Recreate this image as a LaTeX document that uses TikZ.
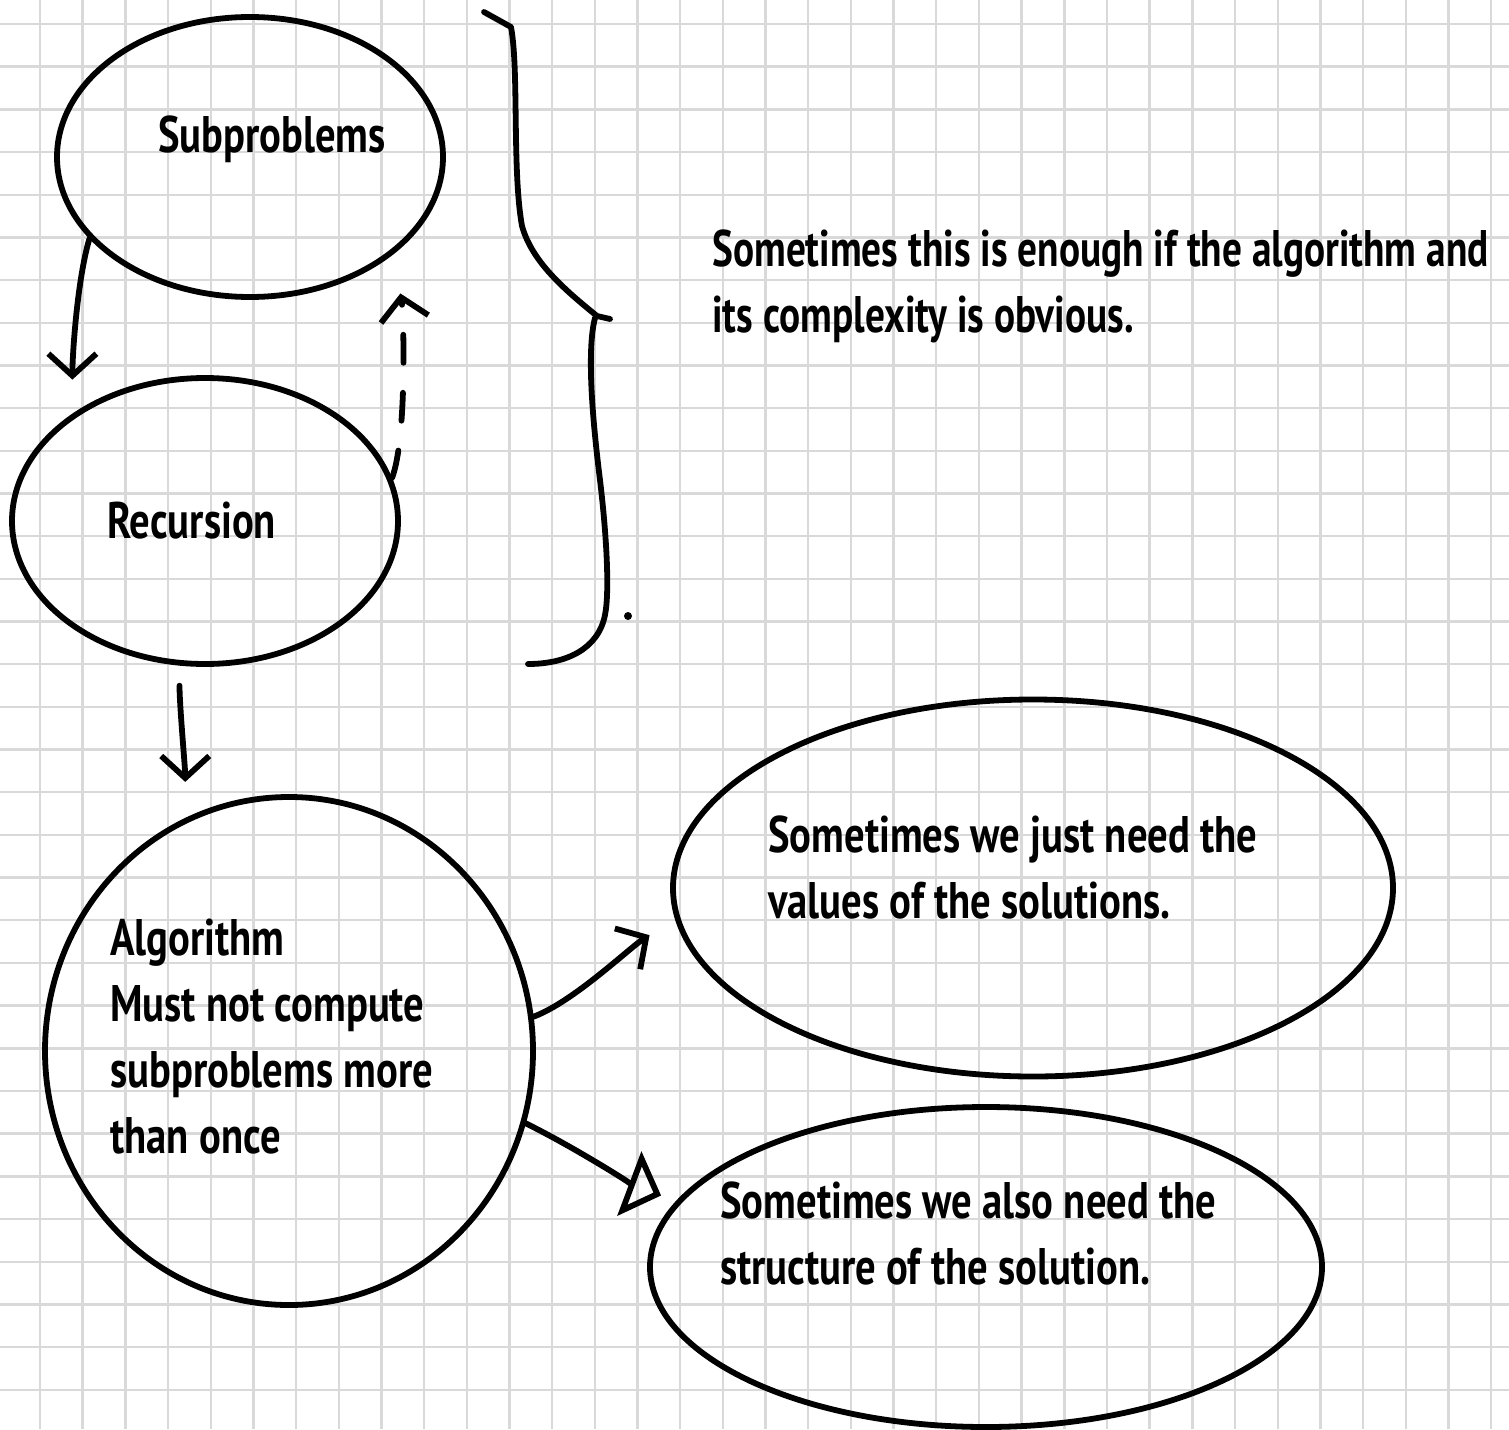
\documentclass[tikz,border=0pt]{standalone}
\usepackage{fontspec}
\setmainfont[FakeStretch=0.79]{PT Sans}
\newfontfamily\notefont[FakeStretch=0.765]{PT Sans}
\usepackage{tikz}
\usetikzlibrary{arrows.meta,shapes.geometric}
\definecolor{gridline}{HTML}{D9D9D9}
\definecolor{ink}{HTML}{000000}

\begin{document}
\begin{tikzpicture}[x=0.5pt,y=-0.5pt,
  >={Straight Barb[length=11pt,width=24pt]},
  ln/.style={ink,line width=2.9pt,line cap=round,line join=round},
  blob/.style={ln,draw,ellipse,inner sep=0pt},
  txt/.style={font=\fontsize{25.7pt}{33pt}\selectfont\bfseries,inner sep=0pt,align=left,anchor=base west}]
\useasboundingbox (0,0) rectangle (1509,1429);
\fill[white] (0,0) rectangle (1509,1429);
% squared paper
\foreach \k in {0,...,34} \draw[gridline,line width=1.2pt] (40+42.68*\k,0) -- (40+42.68*\k,1429);
\foreach \k in {0,...,32} \draw[gridline,line width=1.2pt] (0,24+42.68*\k) -- (1509,24+42.68*\k);

\node[blob,minimum width=193pt,minimum height=140pt] (sub) at (250,157) {};
\node[blob,minimum width=193pt,minimum height=143pt] (rec) at (205,521) {};
\node[blob,minimum width=244pt,minimum height=254pt] (alg) at (289,1051) {};
\node[blob,minimum width=360pt,minimum height=188.5pt] (val) at (1033,888) {};
\node[blob,minimum width=336pt,minimum height=160pt] (str) at (986,1267) {};

% base = last line
\node[txt] (subT) at (158,152) {Subproblems};
\node[txt] (recT) at (107,538) {Recursion};
\node[txt] (algT) at (110,1153) {Algorithm\\Must not compute\\subproblems more\\than once};
\node[txt] (valT) at (768,918) {Sometimes we just need the\\values of the solutions.};
\node[txt] (strT) at (720,1284) {Sometimes we also need the\\structure of the solution.};
\node[txt,font=\fontsize{25.7pt}{33pt}\notefont\bfseries] (note) at (712,332) {Sometimes this is enough if the algorithm and\\its complexity is obvious.};

% brace
\draw[ln] (484,12) -- (511,27) .. controls (519,70) and (512,170) .. (522,226)
  .. controls (532,262) and (565,290) .. (597,316) -- (610,319);
\draw[ln] (595,318) .. controls (588,345) and (590,400) .. (600,480)
  .. controls (606,530) and (610,590) .. (605,615) .. controls (598,650) and (565,664) .. (528,664);
\fill[ink] (628,616) circle (2pt);

% connectors
\draw[ln,->,shorten >=17pt] (sub.207) .. controls +(-12,40) and +(0,-60) .. (rec.141);
\draw[ln,->,dash pattern=on 14pt off 15pt,shorten >=20pt] (rec.13) .. controls +(15,-40) and +(10,60) .. (sub.-34);
\draw[ln,->,shorten <=10pt,shorten >=18pt] (rec.-100) .. controls +(0,40) and +(0,-50) .. (alg.114);
\draw[ln,->,shorten >=15pt] (alg.8) .. controls +(40,-15) and +(-45,28) .. (val.185);
\draw[ln,-{Triangle[open,length=17pt,width=34pt]},shorten >=8pt] (alg.-17) .. controls +(45,22) and +(-40,-15) .. (str.168);
\end{tikzpicture}
\end{document}
